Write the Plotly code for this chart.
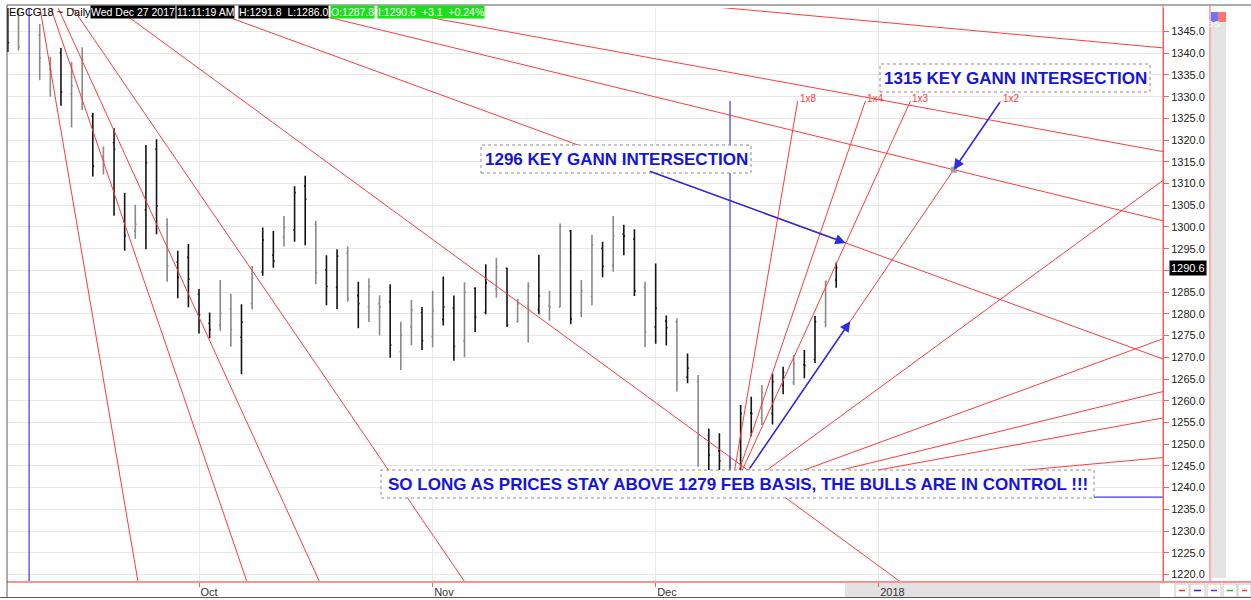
import pandas as pd
import plotly.graph_objects as go

# ---------------- data ----------------
dates = [
    "2017-09-06", "2017-09-07", "2017-09-08", "2017-09-11", "2017-09-12", "2017-09-13", "2017-09-14", "2017-09-15",
    "2017-09-18", "2017-09-19", "2017-09-20", "2017-09-21", "2017-09-22", "2017-09-25", "2017-09-26", "2017-09-27",
    "2017-09-28", "2017-09-29",
    "2017-10-02", "2017-10-03", "2017-10-04", "2017-10-05", "2017-10-06", "2017-10-09", "2017-10-10", "2017-10-11",
    "2017-10-12", "2017-10-13", "2017-10-16", "2017-10-17", "2017-10-18", "2017-10-19", "2017-10-20", "2017-10-23",
    "2017-10-24", "2017-10-25", "2017-10-26", "2017-10-27", "2017-10-30", "2017-10-31",
    "2017-11-01", "2017-11-02", "2017-11-03", "2017-11-06", "2017-11-07", "2017-11-08", "2017-11-09", "2017-11-10",
    "2017-11-13", "2017-11-14", "2017-11-15", "2017-11-16", "2017-11-17", "2017-11-20", "2017-11-21", "2017-11-22",
    "2017-11-24", "2017-11-27", "2017-11-28", "2017-11-29", "2017-11-30",
    "2017-12-01", "2017-12-04", "2017-12-05", "2017-12-06", "2017-12-07", "2017-12-08", "2017-12-11", "2017-12-12",
    "2017-12-13", "2017-12-14", "2017-12-15", "2017-12-18", "2017-12-19", "2017-12-20", "2017-12-21", "2017-12-22",
    "2017-12-26", "2017-12-27",
]
opens = [
    1348.0, 1349.0, 1352.0, 1344.2, 1336.4, 1340.1, 1330.6, 1329.8, 1325.5, 1316.2, 1319.4, 1301.2, 1299.0, 1303.9,
    1317.9, 1300.5, 1291.9, 1293.0,
    1284.5, 1277.8, 1277.4, 1281.1, 1274.6, 1282.4, 1289.6, 1293.5, 1297.6, 1299.3, 1309.4, 1300.7, 1290.1, 1286.1,
    1294.0, 1284.2, 1281.6, 1282.4, 1282.8, 1271.3, 1277.0, 1280.3,
    1274.7, 1278.7, 1281.3, 1273.8, 1285.9, 1280.3, 1285.7, 1290.5, 1278.2, 1281.8, 1281.0, 1281.9, 1281.6, 1299.1,
    1280.1, 1284.0, 1295.1, 1291.1, 1298.4, 1297.2, 1286.1,
    1277.0, 1278.3, 1278.2, 1265.4, 1264.4, 1252.0, 1248.5, 1245.0, 1242.5, 1257.2, 1256.0, 1257.1, 1263.5, 1264.2,
    1268.3, 1269.5, 1278.1, 1287.8,
]
highs = [
    1353.0, 1353.5, 1365.1, 1346.7, 1339.2, 1341.2, 1338.0, 1341.4, 1326.3, 1318.5, 1322.7, 1307.9, 1305.1, 1318.9,
    1320.2, 1302.0, 1294.5, 1296.1,
    1285.7, 1280.3, 1287.8, 1284.6, 1282.2, 1291.0, 1299.9, 1299.1, 1302.5, 1309.4, 1311.8, 1301.4, 1293.5, 1294.9,
    1295.5, 1287.4, 1288.2, 1284.3, 1286.8, 1278.2, 1283.2, 1281.6,
    1285.3, 1288.6, 1284.2, 1287.3, 1286.1, 1291.4, 1292.9, 1290.6, 1283.4, 1287.3, 1293.6, 1285.3, 1300.8, 1299.3,
    1287.8, 1298.2, 1296.6, 1302.5, 1300.5, 1299.5, 1287.4,
    1291.6, 1279.6, 1279.0, 1270.9, 1265.9, 1253.6, 1252.5, 1247.1, 1259.0, 1260.9, 1263.6, 1266.2, 1267.8, 1270.5,
    1271.7, 1279.5, 1287.6, 1291.8,
]
lows = [
    1340.3, 1340.6, 1351.0, 1333.8, 1330.0, 1327.9, 1322.9, 1326.9, 1311.6, 1312.1, 1302.6, 1294.5, 1297.3, 1294.9,
    1298.3, 1287.4, 1283.6, 1281.5,
    1275.5, 1274.4, 1276.1, 1272.4, 1266.1, 1281.0, 1288.8, 1290.6, 1295.5, 1296.6, 1295.8, 1286.8, 1282.0, 1281.1,
    1282.8, 1276.7, 1278.1, 1275.0, 1269.9, 1267.1, 1272.8, 1271.7,
    1272.3, 1277.3, 1269.2, 1270.0, 1275.8, 1279.9, 1283.7, 1277.0, 1278.0, 1273.4, 1279.9, 1278.4, 1281.6, 1277.6,
    1279.2, 1282.0, 1288.4, 1289.7, 1293.5, 1284.1, 1272.3,
    1273.1, 1272.7, 1262.1, 1264.0, 1244.8, 1243.5, 1243.0, 1237.8, 1240.5, 1251.8, 1254.4, 1254.5, 1261.5, 1263.6,
    1265.2, 1268.7, 1276.9, 1286.0,
]
closes = [
    1342.4, 1341.5, 1356.0, 1338.9, 1335.9, 1331.1, 1332.5, 1338.4, 1314.0, 1315.0, 1317.9, 1298.0, 1300.6, 1314.8,
    1304.8, 1291.0, 1288.4, 1288.0,
    1279.8, 1276.4, 1280.1, 1276.4, 1278.1, 1288.2, 1297.0, 1292.2, 1299.9, 1307.9, 1306.4, 1289.5, 1286.3, 1293.3,
    1283.6, 1282.4, 1286.3, 1281.6, 1272.8, 1275.1, 1280.9, 1273.8,
    1280.7, 1281.6, 1272.5, 1285.0, 1279.2, 1287.2, 1290.9, 1277.4, 1282.3, 1286.4, 1284.1, 1281.6, 1300.1, 1278.8,
    1285.3, 1295.9, 1290.9, 1298.0, 1297.9, 1285.3, 1275.9,
    1281.3, 1276.8, 1264.2, 1267.5, 1252.1, 1247.5, 1246.1, 1240.0, 1257.1, 1257.0, 1261.9, 1264.4, 1266.5, 1268.5,
    1268.1, 1278.2, 1287.5, 1290.6,
]
bar_shade = list("kgkggkggkgkkgkkgkk" "kkggkgkkgkkgkkgkggkggk" "gkkgkkgkggkggkggkgkkg" "kkgkgkkgkkgkkgkkgk")

tick_dates = ["2017-10-02", "2017-11-01", "2017-12-01", "2018-01-02"]
tick_text = ["Oct", "Nov", "Dec", "2018"]
price_ticks = [1220.0, 1225.0, 1230.0, 1235.0, 1240.0, 1245.0, 1250.0, 1255.0, 1260.0, 1265.0, 1270.0, 1275.0,
               1280.0, 1285.0, 1290.0, 1295.0, 1300.0, 1305.0, 1310.0, 1315.0, 1320.0, 1325.0, 1330.0, 1335.0,
               1340.0, 1345.0]

# Gann fans
high_pivot_date, high_pivot_price = "2017-09-08", 1365.1
low_pivot_date, low_pivot_price = "2017-12-12", 1237.8
gann_unit = 1.789  # price per bar for the 1x1 angle
gann_ratios = [8, 4, 3, 2, 1, 1 / 2, 1 / 3, 1 / 4, 1 / 8]
gann_up_labels = ["1x8", "1x4", "1x3", "1x2", "1x1", "2x1", "3x1", "4x1", "8x1"]
up_fan_top = 1329.0
key1296_tail_bar = 60.3
basis_arrow_prices = [1244.1, 1278.3]

symbol = "EGCG18 ~ Daily"
header_date = "Wed Dec 27 2017"
header_time = "11:11:19 AM"

note_1296 = "1296 KEY GANN INTERSECTION"
note_1315 = "1315 KEY GANN INTERSECTION"
note_basis = "SO LONG AS PRICES STAY ABOVE 1279 FEB BASIS, THE BULLS ARE IN CONTROL !!!"

# ---------------- geometry ----------------
W, H = 1251, 600
PL, PR, PT, PB = 7, 1163, 8, 581
PW, PH = PR - PL, PB - PT
x_range = [-0.08, 108.77]
y_range = [1218.5, 1350.41]


def fx(p):
    return (p - PL) / PW


def fy(p):
    return (PB - p) / PH


future = pd.bdate_range("2017-12-28", periods=80).strftime("%Y-%m-%d").tolist()
calendar = dates + future
pos = {d: i for i, d in enumerate(calendar)}
xs = list(range(len(dates)))

RED = "#ff3c3c"
BLUE = "#2b2bea"
TEXT_BLUE = "#1414e0"
FONT = "Liberation Sans, Arial, sans-serif"

fig = go.Figure()

# OHLC bars (two shades)
for key, col in [("g", "#8a8a8a"), ("k", "#141414")]:
    sel = [i for i, s in enumerate(bar_shade) if s == key]
    fig.add_trace(go.Ohlc(
        x=[xs[i] for i in sel], open=[opens[i] for i in sel], high=[highs[i] for i in sel],
        low=[lows[i] for i in sel], close=[closes[i] for i in sel],
        increasing=dict(line=dict(color=col, width=1.6)),
        decreasing=dict(line=dict(color=col, width=1.6)),
        tickwidth=0.12, showlegend=False, hoverinfo="skip"))

# Down fan from the September high
xh = pos[high_pivot_date]
lx, ly = [], []
for r in gann_ratios:
    lx += [xh, xh + 400, None]
    ly += [high_pivot_price, high_pivot_price - r * gann_unit * 400, None]
# Up fan from the December low
xl = pos[low_pivot_date]
up_ends = []
for r in gann_ratios:
    xe = xl + (up_fan_top - low_pivot_price) / (r * gann_unit)
    up_ends.append(xe)
    lx += [xl, xe, None]
    ly += [low_pivot_price, up_fan_top, None]
fig.add_trace(go.Scatter(x=lx, y=ly, mode="lines", line=dict(color=RED, width=1),
                         showlegend=False, hoverinfo="skip"))

# Blue reference lines
fig.add_trace(go.Scatter(
    x=[xh, xh, None, xl, xl, None, xl, xl + 400],
    y=[high_pivot_price, 1100, None, low_pivot_price, up_fan_top, None, low_pivot_price, low_pivot_price],
    mode="lines", line=dict(color="#3a3af0", width=1.2), showlegend=False, hoverinfo="skip"))


def cross(rd, ru):
    x = (high_pivot_price - low_pivot_price + gann_unit * (rd * xh + ru * xl)) / (gann_unit * (rd + ru))
    return x, low_pivot_price + ru * gann_unit * (x - xl)


def on_up(ru, price):
    return xl + (price - low_pivot_price) / (ru * gann_unit)


h1296 = cross(1 / 2, 3)
h1315 = cross(1 / 3, 2)
fig.add_trace(go.Scatter(x=[h1315[0]], y=[h1315[1]], mode="markers",
                         marker=dict(symbol="square", size=6, color="#a0a0a0"),
                         showlegend=False, hoverinfo="skip"))

annotations = []
shapes = []

# Gann labels on up fan
for lab, xe in zip(gann_up_labels, up_ends):
    if xe < x_range[1]:
        annotations.append(dict(x=xe, y=up_fan_top, xref="x", yref="y", text=lab, showarrow=False,
                                xanchor="left", yanchor="middle", yshift=3,
                                font=dict(color=RED, size=10, family=FONT)))


# Note boxes
def box(x0, y0, x1, y1, text):
    shapes.append(dict(type="rect", xref="paper", yref="paper", x0=fx(x0), x1=fx(x1), y0=fy(y1), y1=fy(y0),
                       fillcolor="white", line=dict(color="#8c8c8c", width=1, dash="dot"), layer="above"))
    annotations.append(dict(x=fx((x0 + x1) / 2), y=fy((y0 + y1) / 2), xref="paper", yref="paper",
                            text="<b>" + text + "</b>", showarrow=False, xanchor="center", yanchor="middle",
                            font=dict(color=TEXT_BLUE, size=17, family=FONT)))


box(481, 145, 751, 173, note_1296)
box(880, 64, 1150, 92, note_1315)
box(381, 470, 1094, 498, note_basis)

# Arrows
tail1 = (key1296_tail_bar, high_pivot_price - 0.5 * gann_unit * (key1296_tail_bar - xh))
tail2 = (up_ends[3], up_fan_top)
a3t = (on_up(2, basis_arrow_prices[0]), basis_arrow_prices[0])
a3h = (on_up(2, basis_arrow_prices[1]), basis_arrow_prices[1])
for head, tail in [(h1296, tail1), (h1315, tail2), (a3h, a3t)]:
    annotations.append(dict(x=head[0], y=head[1], ax=tail[0], ay=tail[1], xref="x", yref="y",
                            axref="x", ayref="y", text="", showarrow=True, arrowhead=2, arrowsize=1.4,
                            arrowwidth=1.5, arrowcolor=BLUE, standoff=0))


# Header
def hdr(text, xp, bg, fg, size=10.5):
    annotations.append(dict(x=fx(xp), y=fy(12), xref="paper", yref="paper", text=text, showarrow=False,
                            xanchor="left", yanchor="middle", bgcolor=bg, borderpad=0,
                            font=dict(color=fg, size=size, family=FONT)))


chg = closes[-1] - closes[-2]
hdr(symbol, 8, "rgba(0,0,0,0)", "#000000", 11)
hdr(header_date, 90, "#000000", "#ffffff")
hdr(header_time, 176, "#000000", "#ffffff")
hdr(f"H:{highs[-1]:.1f}  L:{lows[-1]:.1f}", 238, "#000000", "#ffffff")
hdr(f"O:{opens[-1]:.1f}", 330, "#19e019", "#ffffff")
hdr(f"I:{closes[-1]:.1f}  {chg:+.1f}  {chg / closes[-2] * 100:+.2f}%", 377, "#19e019", "#ffffff")

# last price tag
annotations.append(dict(x=fx(1169), y=closes[-1], xref="paper", yref="y", text=f"{closes[-1]:.1f}",
                        showarrow=False, xanchor="left", yanchor="middle", bgcolor="#000000", borderpad=1,
                        font=dict(color="#ffffff", size=11, family=FONT)))


# Frame decorations (pixel positions -> paper)
def line_px(x0, y0, x1, y1, col, w=1):
    shapes.append(dict(type="line", xref="paper", yref="paper", x0=fx(x0), y0=fy(y0), x1=fx(x1), y1=fy(y1),
                       line=dict(color=col, width=w), layer="above"))


def rect_px(x0, y0, x1, y1, fill, col=None):
    shapes.append(dict(type="rect", xref="paper", yref="paper", x0=fx(x0), y0=fy(y1), x1=fx(x1), y1=fy(y0),
                       fillcolor=fill, line=dict(color=col or fill, width=1 if col else 0), layer="below"))


rect_px(1211, 22, 1226, 578, "#e4e4e4")
rect_px(845, 583, 1160, 597, "#e2e2e2")
line_px(7, 5, 1251, 5, "#5a5a5a")
line_px(7, 5, 7, 597, "#5a5a5a")
line_px(0, 597.5, 1251, 597.5, "#5a5a5a")
line_px(1210, 5, 1210, 583, "#ff5a5a")
line_px(1163, 5, 1163, 583, "#ff5a5a")
line_px(1163, 582, 1251, 582, "#ff9090", 2)
rect_px(1211, 12, 1218, 22, "#7373ff")
rect_px(1218, 12, 1226, 22, "#ff7373")
for t, xp in [("B", 1214.5), ("S", 1222)]:
    annotations.append(dict(x=fx(xp), y=fy(17), xref="paper", yref="paper", text=t, showarrow=False,
                            font=dict(color="white", size=9, family=FONT)))
for (b0, b1), c in zip([(1175, 1189), (1190, 1205), (1207, 1221), (1223, 1237), (1238, 1251)],
                       ["#ff3030", "#2020ff", "#4040ff", "#20c020", "#ff3030"]):
    rect_px(b0, 584, b1, 597, "white", "#c8c8c8")
    line_px(b0 + 4, 590.5, b1 - 4, 590.5, c, 1.5)

fig.update_layout(
    width=W, height=H, margin=dict(l=PL, r=W - PR, t=PT, b=H - PB, pad=0),
    paper_bgcolor="white", plot_bgcolor="white", showlegend=False,
    annotations=annotations, shapes=shapes, font=dict(family=FONT),
    xaxis=dict(range=x_range, rangeslider=dict(visible=False), tickmode="array",
               tickvals=[pos[d] for d in tick_dates], ticktext=tick_text, ticks="outside", ticklen=4,
               tickcolor="#ff5a5a", showline=True, linecolor="#ff9090", linewidth=2, showgrid=True,
               gridcolor="#e8e8e8", zeroline=False, ticklabelposition="outside right", automargin=False,
               tickfont=dict(size=11, color="#333333", family=FONT)),
    yaxis=dict(range=y_range, side="right", tickmode="array", tickvals=price_ticks, tickformat=".1f",
               ticks="outside", ticklen=5, tickcolor="#ff5a5a", showline=True, linecolor="#ff5a5a",
               linewidth=1, showgrid=True, gridcolor="#e8e8e8", zeroline=False, automargin=False,
               tickfont=dict(size=11, color="#222222", family=FONT)),
)

fig.write_html("out.html", config={"displayModeBar": False},
               post_script="document.body.style.margin='0';document.body.style.overflow='hidden';")
